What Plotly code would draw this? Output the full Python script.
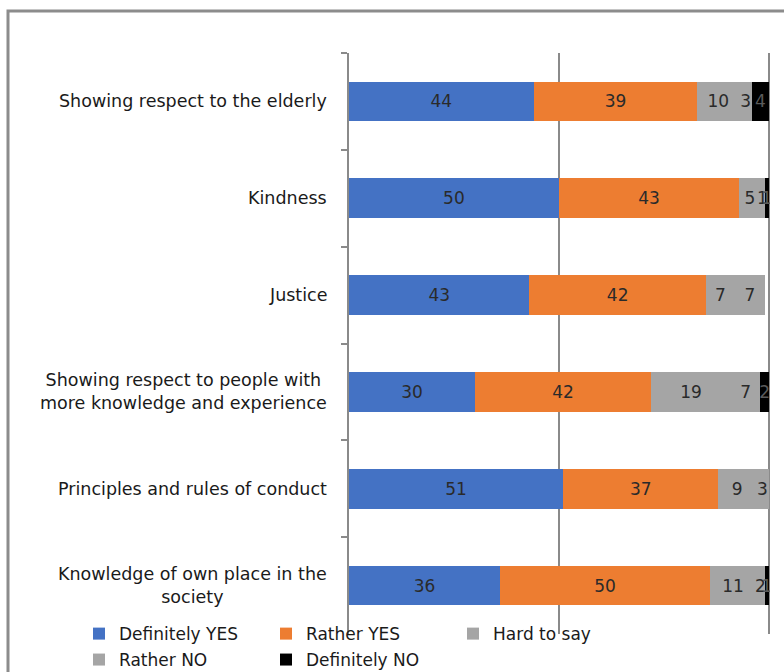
import plotly.graph_objects as go

# Survey items, top to bottom
categories = [
    "Showing respect to the elderly",
    "Kindness",
    "Justice",
    "Showing respect to people with<br>more knowledge and experience",
    "Principles and rules of conduct",
    "Knowledge of own place in the<br>society",
]

# Share of answers, %
definitely_yes = [44, 50, 43, 30, 51, 36]
rather_yes = [39, 43, 42, 42, 37, 50]
hard_to_say = [10, 5, 7, 19, 9, 11]
rather_no = [3, 1, 7, 7, 3, 2]
definitely_no = [4, 1, 0, 2, 0, 1]

series = [
    ("Definitely YES", definitely_yes, "#4472C4", "legend"),
    ("Rather YES", rather_yes, "#ED7D31", "legend"),
    ("Hard to say", hard_to_say, "#A5A5A5", "legend"),
    ("Rather NO", rather_no, "#A5A5A5", "legend2"),
    ("Definitely NO", definitely_no, "#000000", "legend2"),
]

FONT = "DejaVu Sans"

fig = go.Figure()
for name, vals, color, leg in series:
    fig.add_trace(go.Bar(
        name=name,
        x=vals,
        y=categories,
        orientation="h",
        marker=dict(color=color, line=dict(width=0)),
        text=[str(v) if v > 0 else "" for v in vals],
        textposition="inside",
        insidetextanchor="middle",
        textangle=0,
        constraintext="none",
        textfont=dict(family=FONT, size=17,
                      color="#5a5a5a" if color == "#000000" else "#2a2a2a"),
        legend=leg,
        hoverinfo="skip",
    ))

# Centered, multi-line category labels placed next to the axis
for cat in categories:
    fig.add_annotation(
        x=0, xref="paper", y=cat, yref="y",
        text=cat, showarrow=False,
        xanchor="right", yanchor="middle", align="center",
        xshift=-20,
        font=dict(family=FONT, size=17.5, color="#1a1a1a"),
    )

W, H = 784, 672
L, R, T, B = 349, 14, 53, 38
pw = W - L - R
ph = H - T - B

def px_x(p):
    return (p - L) / pw

def px_y(p):
    return (H - B - p) / ph

# Outer frame of the chart
fig.add_shape(
    type="rect", xref="paper", yref="paper",
    x0=px_x(8), x1=px_x(800), y0=px_y(700), y1=px_y(11),
    line=dict(color="#8c8c8c", width=3), fillcolor="rgba(0,0,0,0)",
    layer="below",
)

legend_common = dict(
    orientation="h",
    xref="paper", yref="paper",
    xanchor="left", yanchor="middle",
    bgcolor="rgba(0,0,0,0)",
    font=dict(family=FONT, size=17, color="#1a1a1a"),
    entrywidth=142,
    traceorder="normal",
)

fig.update_layout(
    width=W, height=H,
    margin=dict(l=L, r=R, t=T, b=B, autoexpand=False),
    paper_bgcolor="white",
    plot_bgcolor="white",
    barmode="stack",
    bargap=0.59,
    showlegend=True,
    legend=dict(x=px_x(79), y=-0.0001, **legend_common),
    legend2=dict(x=px_x(79), y=px_y(660), **legend_common),
    xaxis=dict(
        range=[0, 100.3], dtick=50, tick0=0,
        showgrid=True, gridcolor="#8a8a8a", gridwidth=1.5,
        showticklabels=False, zeroline=False, showline=False, ticks="",
    ),
    yaxis=dict(
        categoryorder="array", categoryarray=categories,
        autorange="reversed",
        showline=True, linecolor="#8a8a8a", linewidth=2,
        ticks="outside", ticklen=6, tickcolor="#8a8a8a", tickwidth=2,
        tickson="boundaries",
        showticklabels=False, showgrid=False,
    ),
)

fig.write_html("out.html")
